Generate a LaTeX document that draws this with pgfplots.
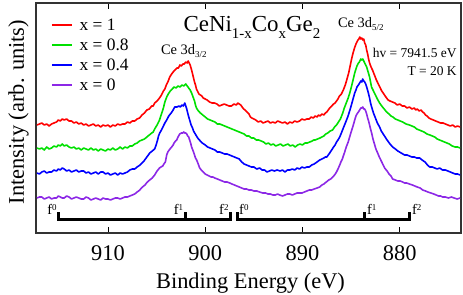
\documentclass[border=0pt]{standalone}
\usepackage{fontspec}
\setmainfont{Liberation Serif}
\usepackage{pgfplots}
\pgfplotsset{compat=1.18}
\definecolor{cred}{RGB}{255,0,0}
\definecolor{cgreen}{RGB}{0,224,0}
\definecolor{cblue}{RGB}{0,0,255}
\definecolor{cpurple}{RGB}{140,40,230}
\begin{document}
\begin{tikzpicture}[x=1bp,y=1bp]
\path[use as bounding box] (0,0) rectangle (463,294);
\begin{axis}[at={(36bp,61bp)}, anchor=south west, scale only axis,
  width=425bp, height=230bp,
  x dir=reverse, xmin=873.7, xmax=917.4, ymin=7, ymax=237,
  xtick={880,890,900,910}, ytick=\empty,
  tick align=inside, major tick length=6bp,
  tick style={black, line width=0.9bp},
  axis line style={black!80, line width=1.1bp},
  /pgf/number format/assume math mode=true,
  xticklabel style={font=\fontsize{22.5}{27}\selectfont, anchor=base, yshift=-27bp},
  xlabel={Binding Energy (eV)}, ylabel={Intensity (arb. units)},
  xlabel style={font=\fontsize{22.5}{27}\selectfont, at={(axis description cs:0.5,0)}, anchor=base, yshift=-55bp, xshift=2bp},
  ylabel style={font=\fontsize{22.5}{27}\selectfont, at={(axis description cs:0,0.5)}, anchor=base, yshift=12bp, xshift=6bp},
  legend style={at={(axis description cs:0.0353,0.930)}, anchor=north west, draw=none, fill=none,
    font=\fontsize{17.5}{20}\selectfont, inner sep=0pt, outer sep=0pt,
    nodes={inner sep=0bp, text depth=0bp}, row sep=8.5bp, column sep=7bp},
  legend cell align=left,
  legend image code/.code={\draw[#1] (0bp,0bp) -- (20bp,0bp);},
]
\addplot[cred, line width=1.6bp, line join=round] coordinates {
(917.3,115)(917.05,116)(916.8,117)(916.55,115)(916.3,116)(916.05,114)(915.8,116)(915.55,117)(915.3,118)(915.1,120)(914.9,119)(914.7,121)(914.5,120)(914.25,121)(914.0,119)(913.75,119)(913.5,117)(913.25,118)(913.0,116)(912.75,117)(912.5,115)(912.25,116)(912.0,114)(911.75,115)(911.5,116)(911.25,114)(911.0,115)(910.75,113)(910.5,115)(910.25,114)(910.0,115)(909.75,113)(909.5,115)(909.25,114)(909.0,116)(908.75,115)(908.5,116)(908.25,116)(908.0,118)(907.75,117)(907.5,119)(907.25,119)(907.0,121)(906.75,122)(906.5,125)(906.25,127)(906.0,130)(905.75,131)(905.5,134)(905.35,134)(905.2,137)(904.95,139)(904.7,142)(904.5,145)(904.3,149)(904.15,151)(904.0,155)(903.8,159)(903.65,163)(903.45,166)(903.3,168)(903.1,170)(902.9,172)(902.75,172)(902.6,175)(902.45,174)(902.3,176)(902.15,176)(902.0,178)(901.85,177)(901.75,179)(901.65,177)(901.55,175)(901.4,170)(901.3,166)(901.2,162)(901.1,158)(901.0,155)(900.9,151)(900.8,149)(900.65,146)(900.5,145)(900.35,144)(900.2,142)(900.0,141)(899.8,140)(899.55,138)(899.3,137)(899.05,137)(898.8,136)(898.55,134)(898.3,135)(898.05,136)(897.8,135)(897.55,134)(897.3,134)(897.05,136)(896.8,135)(896.65,137)(896.5,136)(896.35,135)(896.2,133)(896.05,131)(895.9,130)(895.7,128)(895.5,126)(895.35,123)(895.2,122)(895.0,121)(894.8,120)(894.55,118)(894.3,119)(894.05,117)(893.8,118)(893.55,119)(893.3,117)(893.05,118)(892.8,117)(892.55,119)(892.3,118)(892.05,117)(891.8,118)(891.55,116)(891.3,118)(891.05,117)(890.8,119)(890.55,118)(890.3,119)(890.05,121)(889.8,120)(889.55,121)(889.3,121)(889.1,123)(888.9,122)(888.7,124)(888.5,123)(888.35,125)(888.2,124)(888.0,126)(887.8,125)(887.65,127)(887.5,128)(887.35,130)(887.2,132)(887.0,134)(886.8,136)(886.65,137)(886.5,139)(886.35,141)(886.2,144)(886.0,146)(885.8,150)(885.6,155)(885.45,160)(885.25,167)(885.1,174)(884.95,181)(884.8,187)(884.65,192)(884.5,196)(884.4,198)(884.3,200)(884.2,201)(884.1,203)(884.0,201)(883.9,202)(883.8,200)(883.7,201)(883.6,197)(883.5,195)(883.4,190)(883.3,186)(883.2,181)(883.1,177)(882.95,173)(882.8,170)(882.6,165)(882.4,160)(882.2,156)(882.0,152)(881.85,149)(881.7,147)(881.5,144)(881.35,142)(881.2,140)(881.0,139)(880.75,138)(880.5,137)(880.25,135)(880.0,136)(879.75,134)(879.5,134)(879.25,132)(879.0,133)(878.75,131)(878.5,132)(878.35,130)(878.2,131)(878.0,129)(877.8,130)(877.65,128)(877.5,127)(877.35,125)(877.2,124)(877.0,122)(876.8,121)(876.55,120)(876.3,119)(876.05,118)(875.8,117)(875.55,117)(875.3,116)(875.05,115)(874.8,114)(874.55,115)(874.3,113)(874.05,114)(873.8,113)};
\addlegendentry{x = 1}
\addplot[cgreen, line width=1.6bp, line join=round] coordinates {
(917.3,92)(917.05,91)(916.8,92)(916.55,90)(916.3,93)(916.05,91)(915.8,92)(915.55,94)(915.3,93)(915.1,95)(914.9,94)(914.7,96)(914.5,94)(914.25,95)(914.0,93)(913.75,92)(913.5,93)(913.25,91)(913.0,92)(912.75,90)(912.5,92)(912.25,91)(912.0,90)(911.75,92)(911.5,90)(911.25,91)(911.0,89)(910.75,91)(910.5,90)(910.25,89)(910.0,91)(909.75,90)(909.5,92)(909.25,90)(909.0,91)(908.75,93)(908.5,91)(908.25,93)(908.0,92)(907.75,94)(907.5,94)(907.25,96)(907.0,97)(906.75,99)(906.5,100)(906.25,101)(906.0,103)(905.75,105)(905.5,107)(905.35,108)(905.2,111)(904.95,115)(904.7,120)(904.5,126)(904.3,132)(904.15,138)(903.96,143)(903.8,146)(903.6,149)(903.4,151)(903.2,153)(903.0,152)(902.8,154)(902.6,153)(902.4,155)(902.2,154)(902.0,156)(901.85,154)(901.7,152)(901.55,150)(901.4,147)(901.25,143)(901.1,139)(901.0,135)(900.9,132)(900.7,129)(900.5,127)(900.25,125)(900.0,123)(899.75,121)(899.5,120)(899.25,119)(899.0,118)(898.75,116)(898.5,116)(898.25,115)(898.0,114)(897.75,113)(897.5,112)(897.25,111)(897.0,110)(896.75,109)(896.5,108)(896.25,107)(896.0,106)(895.75,104)(895.5,104)(895.25,102)(895.0,102)(894.75,100)(894.5,100)(894.25,99)(894.0,98)(893.75,96)(893.5,97)(893.25,95)(893.0,96)(892.75,94)(892.5,95)(892.25,96)(892.0,94)(891.75,95)(891.5,96)(891.25,94)(891.0,95)(890.75,93)(890.5,95)(890.25,96)(890.0,95)(889.75,97)(889.5,97)(889.25,98)(889.0,99)(888.85,100)(888.7,100)(888.45,101)(888.2,102)(888.0,103)(887.8,104)(887.6,106)(887.4,107)(887.15,109)(886.9,110)(886.7,113)(886.5,115)(886.3,118)(886.1,121)(885.98,124)(885.86,127)(885.7,132)(885.5,137)(885.3,142)(885.14,147)(885.0,152)(884.9,156)(884.75,162)(884.63,167)(884.5,171)(884.4,174)(884.25,177)(884.15,178)(884.0,181)(883.9,180)(883.8,181)(883.7,179)(883.55,176)(883.4,173)(883.25,168)(883.1,163)(883.0,158)(882.9,153)(882.7,149)(882.5,145)(882.3,141)(882.07,137)(881.85,134)(881.6,131)(881.35,128)(881.1,126)(880.9,124)(880.7,123)(880.45,121)(880.2,120)(879.95,119)(879.7,118)(879.35,116)(879.0,115)(878.75,114)(878.5,113)(878.25,111)(878.0,110)(877.75,109)(877.5,108)(877.2,106)(876.9,105)(876.65,104)(876.4,103)(876.15,101)(875.9,100)(875.65,99)(875.4,98)(875.15,97)(874.9,96)(874.6,94)(874.3,93)(874.05,93)(873.8,92)};
\addlegendentry{x = 0.8}
\addplot[cblue, line width=1.6bp, line join=round] coordinates {
(917.3,67)(917.05,66)(916.8,68)(916.55,69)(916.3,67)(916.05,68)(915.8,68)(915.55,70)(915.3,69)(915.1,71)(914.9,70)(914.7,72)(914.5,71)(914.25,69)(914.0,70)(913.75,68)(913.5,69)(913.25,70)(913.0,68)(912.75,69)(912.5,69)(912.25,67)(912.0,68)(911.75,66)(911.5,67)(911.25,68)(911.0,66)(910.75,68)(910.5,68)(910.25,66)(910.0,67)(909.75,65)(909.5,66)(909.25,67)(909.0,65)(908.75,67)(908.5,66)(908.25,67)(908.0,68)(907.75,70)(907.5,71)(907.25,71)(907.0,73)(906.85,74)(906.7,75)(906.5,77)(906.3,79)(906.15,81)(906.0,83)(905.85,85)(905.7,87)(905.45,89)(905.2,91)(905.05,95)(904.9,100)(904.8,104)(904.68,107)(904.5,110)(904.3,114)(904.15,117)(903.96,120)(903.75,124)(903.5,127)(903.3,130)(903.14,133)(902.9,133)(902.7,134)(902.55,133)(902.4,135)(902.25,134)(902.1,137)(902.0,134)(901.9,131)(901.75,125)(901.6,120)(901.45,115)(901.3,112)(901.2,109)(901.08,107)(900.9,104)(900.7,101)(900.5,99)(900.3,97)(900.15,96)(900.0,95)(899.75,93)(899.5,92)(899.25,91)(899.0,90)(898.75,88)(898.5,88)(898.25,87)(898.0,86)(897.75,86)(897.5,85)(897.25,84)(897.0,83)(896.75,82)(896.5,81)(896.25,78)(896.0,76)(895.75,75)(895.5,74)(895.25,73)(895.0,73)(894.7,71)(894.4,72)(894.15,70)(893.9,70)(893.65,68)(893.4,69)(893.15,70)(892.9,69)(892.6,70)(892.3,69)(892.05,70)(891.8,68)(891.55,70)(891.3,70)(891.05,71)(890.8,70)(890.55,72)(890.3,71)(890.05,73)(889.8,72)(889.55,73)(889.3,73)(889.05,75)(888.8,76)(888.5,78)(888.23,80)(888.0,81)(887.8,82)(887.65,83)(887.5,83)(887.35,85)(887.2,87)(887.0,90)(886.8,93)(886.65,95)(886.5,98)(886.35,100)(886.17,103)(886.0,107)(885.8,112)(885.55,118)(885.35,123)(885.15,129)(885.0,134)(884.8,141)(884.63,147)(884.5,150)(884.4,153)(884.25,155)(884.12,157)(884.0,159)(883.9,158)(883.81,161)(883.7,159)(883.6,158)(883.5,156)(883.4,153)(883.25,148)(883.1,142)(883.0,137)(882.89,133)(882.7,127)(882.5,122)(882.3,117)(882.07,113)(881.9,109)(881.7,106)(881.5,103)(881.3,100)(881.0,96)(880.73,93)(880.45,91)(880.2,89)(879.85,87)(879.5,85)(879.25,85)(879.0,84)(878.75,83)(878.5,83)(878.25,82)(877.95,82)(877.7,80)(877.4,78)(877.15,75)(876.92,73)(876.65,73)(876.4,72)(876.15,71)(875.89,72)(875.6,70)(875.3,70)(875.05,69)(874.8,68)(874.55,67)(874.3,66)(874.05,66)(873.8,65)};
\addlegendentry{x = 0.4}
\addplot[cpurple, line width=1.6bp, line join=round] coordinates {
(917.3,42)(917.05,43)(916.8,43)(916.55,41)(916.3,42)(916.05,43)(915.8,41)(915.55,42)(915.3,42)(915.1,44)(914.9,43)(914.7,42)(914.5,42)(914.25,44)(914.0,43)(913.75,41)(913.5,42)(913.25,43)(913.0,42)(912.75,41)(912.5,41)(912.25,43)(912.0,42)(911.75,40)(911.5,41)(911.25,42)(911.0,41)(910.75,40)(910.5,42)(910.25,41)(910.0,41)(909.75,40)(909.5,41)(909.25,42)(909.0,42)(908.75,41)(908.5,42)(908.25,43)(908.0,43)(907.75,44)(907.5,45)(907.25,46)(907.0,48)(906.85,49)(906.74,50)(906.45,53)(906.2,55)(905.95,58)(905.71,60)(905.45,62)(905.2,65)(904.95,69)(904.7,72)(904.55,73)(904.37,74)(904.25,76)(904.1,78)(903.96,85)(903.85,88)(903.7,90)(903.55,92)(903.45,93)(903.3,95)(903.2,97)(903.05,99)(902.93,100)(902.8,103)(902.62,106)(902.45,107)(902.3,107)(902.2,108)(902.11,107)(902.0,107)(901.9,106)(901.8,104)(901.7,103)(901.6,100)(901.5,97)(901.4,93)(901.28,90)(901.2,88)(901.1,85)(901.0,82)(900.88,80)(900.72,76)(900.57,72)(900.4,70)(900.2,68)(900.0,66)(899.8,65)(899.6,64)(899.4,63)(899.2,63)(899.02,62)(898.75,61)(898.5,60)(898.25,59)(898.0,58)(897.75,58)(897.48,57)(897.25,56)(897.0,55)(896.75,54)(896.5,53)(896.25,52)(896.0,51)(895.75,51)(895.5,50)(895.25,50)(895.0,49)(894.7,49)(894.4,48)(894.1,47)(893.8,47)(893.55,46)(893.3,46)(893.05,45)(892.8,45)(892.55,46)(892.34,45)(892.05,44)(891.8,45)(891.55,46)(891.3,46)(891.05,45)(890.8,46)(890.55,47)(890.28,47)(890.05,47)(889.8,48)(889.55,49)(889.3,50)(889.05,50)(888.8,51)(888.5,52)(888.23,53)(888.0,55)(887.8,56)(887.55,58)(887.3,60)(887.1,61)(886.89,63)(886.7,65)(886.5,68)(886.35,71)(886.17,75)(886.05,78)(885.9,81)(885.8,84)(885.66,88)(885.5,93)(885.3,98)(885.15,103)(885.0,108)(884.8,114)(884.63,120)(884.5,124)(884.4,126)(884.25,128)(884.12,130)(884.0,132)(883.9,132)(883.8,133)(883.7,131)(883.6,131)(883.5,129)(883.4,126)(883.3,122)(883.2,119)(883.1,115)(883.0,111)(882.89,107)(882.75,101)(882.6,96)(882.45,91)(882.27,87)(882.1,83)(881.9,79)(881.75,76)(881.55,72)(881.3,69)(881.1,66)(880.9,64)(880.73,61)(880.45,60)(880.2,59)(879.95,59)(879.7,58)(879.5,57)(879.29,57)(879.0,56)(878.7,55)(878.45,54)(878.2,53)(877.9,52)(877.64,50)(877.35,49)(877.1,48)(876.8,47)(876.5,46)(876.25,45)(876.0,44)(875.8,44)(875.58,43)(875.3,43)(875.0,42)(874.7,43)(874.4,42)(874.1,41)(873.8,42)};
\addlegendentry{x = 0}
% multiplet brackets
\addplot[black, line width=3bp, line join=miter, forget plot] coordinates {(915.05,28)(915.05,21)(897.38,21)(897.38,28)};
\addplot[black, line width=3bp, forget plot] coordinates {(902.04,21)(902.04,28)};
\addplot[black, line width=3bp, line join=miter, forget plot] coordinates {(896.73,28)(896.73,21)(878.96,21)(878.96,28)};
\addplot[black, line width=3bp, forget plot] coordinates {(883.59,21)(883.59,28)};
% labels
\node[anchor=base, font=\fontsize{23}{27}\selectfont, inner sep=0pt] at (axis cs:895.2,208)
  {CeNi\raisebox{-7bp}{\fontsize{15}{15}\selectfont 1-x}Co\raisebox{-7bp}{\fontsize{15}{15}\selectfont x}Ge\raisebox{-7bp}{\fontsize{15}{15}\selectfont 2}};
\node[anchor=base, font=\fontsize{14.5}{17}\selectfont, inner sep=0pt] at (axis cs:902.2,186)
  {Ce 3d\raisebox{-3bp}{\fontsize{9}{9}\selectfont 3/2}};
\node[anchor=base, font=\fontsize{14.5}{17}\selectfont, inner sep=0pt] at (axis cs:884.0,212)
  {Ce 3d\raisebox{-3bp}{\fontsize{9}{9}\selectfont 5/2}};
\node[anchor=base east, font=\fontsize{13.5}{16}\selectfont, inner sep=0pt] at (axis cs:874.13,183) {hv = 7941.5 eV};
\node[anchor=base east, font=\fontsize{13.5}{16}\selectfont, inner sep=0pt] at (axis cs:874.13,165) {T = 20 K};
\tikzset{flab/.style={font=\fontsize{14.5}{17}\selectfont, inner sep=0pt}}
\node[flab, anchor=base east] at (axis cs:915.05,26) [xshift=-2bp] {f\raisebox{4bp}{\fontsize{9}{9}\selectfont 0}};
\node[flab, anchor=base east] at (axis cs:902.04,26) [xshift=-2bp] {f\raisebox{4bp}{\fontsize{9}{9}\selectfont 1}};
\node[flab, anchor=base east] at (axis cs:897.38,26) [xshift=-2bp] {f\raisebox{4bp}{\fontsize{9}{9}\selectfont 2}};
\node[flab, anchor=base west] at (axis cs:896.73,26) [xshift=2bp] {f\raisebox{4bp}{\fontsize{9}{9}\selectfont 0}};
\node[flab, anchor=base west] at (axis cs:883.59,26) [xshift=2bp] {f\raisebox{4bp}{\fontsize{9}{9}\selectfont 1}};
\node[flab, anchor=base west] at (axis cs:878.96,26) [xshift=2bp] {f\raisebox{4bp}{\fontsize{9}{9}\selectfont 2}};
\end{axis}
\end{tikzpicture}
\end{document}
